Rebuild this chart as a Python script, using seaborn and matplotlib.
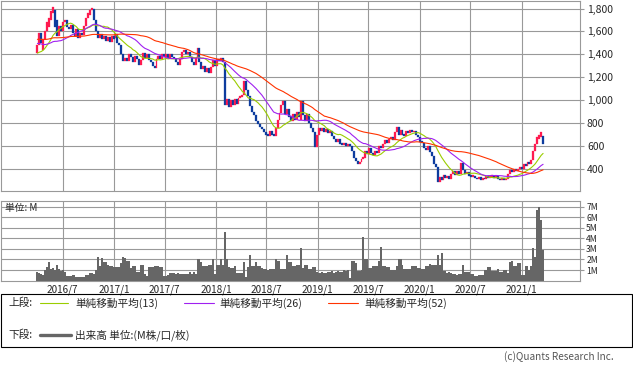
import numpy as np
import pandas as pd
import matplotlib
import matplotlib.pyplot as plt
import seaborn as sns
from matplotlib.lines import Line2D
from matplotlib.patches import Rectangle

matplotlib.use("Agg")

# --- data (weekly, first visible week = 2016-04-01) ---
start_date = "2016-04-01"

# closes of the 51 weeks before the first shown week, only used to seed the moving averages
pre_close = [
    1540, 1560, 1580, 1600, 1590, 1570, 1550, 1560, 1580, 1600, 1620, 1610, 1590,
    1570, 1550, 1520, 1500, 1530, 1560, 1580, 1560, 1540, 1550, 1570, 1590, 1580,
    1600, 1620, 1640, 1610, 1590, 1570, 1600, 1580, 1560, 1550, 1560, 1550, 1510,
    1480, 1420, 1380, 1350, 1370, 1400, 1420, 1380, 1390, 1410, 1420, 1440,
]

open_px = [
    1410, 1480, 1590, 1440, 1530, 1600, 1640, 1700, 1760, 1790, 1700, 1560, 1650,
    1600, 1680, 1700, 1640, 1620, 1660, 1590, 1560, 1620, 1540, 1590, 1570, 1650,
    1720, 1740, 1790, 1800, 1700, 1600, 1540, 1580, 1530, 1560, 1520, 1550, 1510,
    1560, 1540, 1580, 1500, 1480, 1400, 1340, 1370, 1340, 1400, 1380, 1330, 1390,
    1360, 1310, 1350, 1410, 1370, 1400, 1350, 1330, 1300, 1280, 1360, 1390, 1360,
    1400, 1380, 1400, 1370, 1400, 1380, 1360, 1330, 1310, 1360, 1420, 1440, 1400,
    1420, 1380, 1330, 1310, 1370, 1460, 1330, 1270, 1300, 1250, 1280, 1240, 1290,
    1350, 1300, 1360, 1340, 1370, 1330, 960, 1010, 940, 1000, 960, 1010, 970,
    1020, 1030, 1050, 1170, 1090, 1040, 950, 900, 870, 820, 790, 770, 750,
    720, 700, 690, 730, 700, 690, 760, 830, 890, 960, 990, 880, 920,
    860, 820, 880, 830, 900, 830, 990, 870, 820, 880, 800, 760, 720,
    590, 700, 760, 730, 760, 720, 750, 710, 730, 690, 660, 640, 660,
    620, 610, 630, 600, 610, 600, 560, 500, 470, 440, 460, 490, 500,
    560, 530, 580, 540, 520, 560, 540, 600, 580, 620, 650, 630, 660,
    680, 650, 720, 770, 700, 740, 700, 690, 730, 710, 740, 720, 730,
    700, 680, 640, 630, 580, 570, 600, 550, 510, 440, 420, 290, 330,
    300, 350, 320, 340, 310, 360, 380, 350, 380, 360, 450, 390, 360,
    370, 340, 330, 340, 320, 310, 330, 300, 320, 310, 340, 320, 330,
    340, 320, 340, 310, 300, 320, 300, 310, 360, 390, 370, 400, 380,
    400, 420, 400, 440, 430, 460, 440, 480, 560, 620, 660, 680, 690,
]

close_px = [
    1480, 1590, 1500, 1530, 1600, 1680, 1720, 1780, 1810, 1640, 1560, 1650, 1600,
    1680, 1700, 1640, 1620, 1660, 1590, 1560, 1620, 1540, 1590, 1570, 1650, 1720,
    1760, 1790, 1800, 1700, 1600, 1540, 1580, 1530, 1560, 1520, 1550, 1510, 1560,
    1530, 1580, 1500, 1480, 1400, 1340, 1370, 1340, 1400, 1380, 1330, 1390, 1360,
    1310, 1350, 1410, 1370, 1400, 1350, 1330, 1300, 1280, 1360, 1390, 1360, 1400,
    1380, 1400, 1370, 1400, 1380, 1360, 1330, 1310, 1360, 1420, 1440, 1400, 1420,
    1380, 1330, 1310, 1370, 1460, 1330, 1270, 1300, 1250, 1280, 1240, 1290, 1350,
    1300, 1360, 1340, 1370, 1330, 960, 1010, 940, 1000, 960, 1010, 970, 1020,
    1030, 1050, 1170, 1090, 1040, 950, 900, 870, 820, 790, 770, 750, 720,
    700, 690, 730, 700, 690, 760, 830, 890, 960, 990, 880, 920, 850,
    820, 880, 830, 900, 850, 990, 870, 820, 880, 800, 760, 720, 590,
    700, 760, 730, 760, 720, 750, 710, 730, 690, 660, 640, 660, 620,
    610, 630, 600, 610, 600, 560, 500, 470, 440, 460, 490, 500, 560,
    530, 580, 540, 520, 560, 540, 600, 580, 620, 650, 630, 660, 680,
    650, 720, 770, 700, 740, 700, 690, 730, 710, 740, 720, 730, 700,
    680, 640, 630, 580, 570, 600, 550, 510, 440, 420, 290, 330, 300,
    350, 320, 340, 310, 360, 380, 350, 380, 360, 450, 390, 360, 370,
    340, 330, 340, 320, 310, 330, 300, 320, 310, 340, 320, 330, 340,
    320, 340, 310, 300, 320, 300, 310, 360, 390, 370, 400, 380, 400,
    420, 400, 440, 430, 460, 440, 480, 560, 620, 680, 700, 720, 620,
]

# weekly volume, millions
volume_m = [
    0.82, 0.70, 0.60, 0.50, 1.05, 1.26, 1.77, 1.10, 1.20, 1.00, 1.50, 1.10, 0.95,
    1.00, 0.85, 0.45, 0.40, 0.40, 0.55, 0.50, 0.30, 0.30, 0.35, 0.30, 0.30, 0.50,
    0.50, 0.70, 0.70, 0.65, 1.00, 2.20, 1.35, 2.10, 1.77, 1.75, 1.50, 1.40, 1.35,
    1.30, 1.30, 1.30, 1.30, 1.67, 2.20, 2.10, 1.90, 1.85, 1.20, 1.35, 1.35, 0.80,
    0.80, 1.50, 1.50, 0.60, 0.45, 1.26, 1.26, 1.30, 1.35, 1.35, 1.35, 1.26, 1.26,
    0.45, 0.45, 0.50, 0.70, 0.70, 0.70, 0.65, 0.70, 0.65, 0.60, 0.65, 0.60, 0.60,
    0.80, 0.60, 0.80, 0.60, 2.00, 2.00, 1.80, 1.35, 1.35, 1.40, 1.50, 1.50, 2.00,
    0.60, 1.50, 1.50, 2.00, 1.50, 4.60, 2.00, 1.30, 1.20, 1.20, 1.35, 0.70, 0.70,
    0.70, 0.70, 1.80, 0.35, 1.26, 2.46, 1.35, 1.35, 1.77, 1.35, 1.35, 1.20, 1.10,
    1.10, 1.05, 1.10, 1.10, 1.10, 2.00, 1.90, 1.90, 1.10, 1.10, 1.10, 2.40, 1.80,
    1.80, 1.35, 1.35, 1.50, 1.50, 3.10, 1.20, 1.50, 1.50, 1.10, 1.10, 1.26, 1.26,
    0.80, 0.75, 0.70, 0.80, 0.70, 0.75, 0.85, 0.80, 0.90, 0.75, 0.80, 0.90, 0.85,
    0.80, 1.00, 0.90, 1.00, 0.20, 1.90, 1.90, 1.67, 0.90, 0.90, 1.00, 4.10, 2.00,
    2.00, 1.20, 1.20, 1.40, 1.40, 1.40, 1.90, 3.15, 1.35, 1.35, 1.26, 1.26, 1.00,
    1.00, 1.00, 1.35, 2.00, 2.00, 1.50, 1.10, 1.10, 1.10, 1.10, 1.35, 1.35, 1.35,
    1.20, 1.20, 1.10, 1.10, 1.35, 1.35, 1.58, 1.50, 1.50, 1.50, 2.46, 1.50, 2.60,
    0.90, 0.90, 0.75, 0.80, 0.70, 0.60, 0.65, 0.55, 0.60, 0.60, 1.45, 0.80, 0.80,
    0.80, 0.60, 0.60, 0.40, 0.40, 0.50, 0.50, 0.50, 1.00, 1.00, 1.30, 1.30, 0.95,
    0.95, 0.95, 1.10, 0.80, 0.80, 1.00, 1.00, 0.70, 1.80, 1.90, 1.35, 1.35, 1.67,
    1.67, 0.55, 0.55, 1.35, 1.35, 1.00, 1.35, 3.05, 2.20, 6.70, 6.95, 5.75, 2.90,
]

date_ticks = ["2016-07-01", "2017-01-01", "2017-07-01", "2018-01-01", "2018-07-01",
              "2019-01-01", "2019-07-01", "2020-01-01", "2020-07-01", "2021-01-01"]
date_labels = ["2016/7", "2017/1", "2017/7", "2018/1", "2018/7",
               "2019/1", "2019/7", "2020/1", "2020/7", "2021/1"]
price_ticks = [400, 600, 800, 1000, 1200, 1400, 1600, 1800]
vol_ticks = [1, 2, 3, 4, 5, 6, 7]
vol_labels = ["1M", "2M", "3M", "4M", "5M", "6M", "7M"]
ma_windows = [13, 26, 52]
ma_colors = ["#9acd00", "#a020f0", "#ff3300"]

UP = "#ff1a4f"
DOWN = "#0d3c9e"
GRID = "#999999"
VOLC = "#666666"

assert len(open_px) == len(close_px) == len(volume_m) == 260

sns.set_style("white")
plt.rcParams["font.family"] = ["Noto Sans CJK JP", "DejaVu Sans"]

df = pd.DataFrame({"open": open_px, "close": close_px, "vol": volume_m})
df["x"] = np.arange(len(df))
full_close = pd.Series(pre_close + close_px, dtype=float)
for w in ma_windows:
    df[f"ma{w}"] = full_close.rolling(w).mean().iloc[len(pre_close):].to_numpy()

t0 = pd.Timestamp(start_date)
tick_pos = [(pd.Timestamp(d) - t0).days / 7 for d in date_ticks]

W, H = 633, 375
fig = plt.figure(figsize=(W / 100, H / 100), dpi=100)


def fx(px):
    return px / W


def fy(py):
    return 1 - py / H


ax_p = fig.add_axes([fx(0.5), fy(190.7), fx(579.5), (190.7 - 0.5) / H])
ax_v = fig.add_axes([fx(0.5), fy(280.6), fx(579.5), (280.6 - 201) / H])

# --- price panel ---
up = df["close"] >= df["open"]
body_lo = df[["open", "close"]].min(axis=1)
body_h = (df["close"] - df["open"]).abs().clip(lower=15)
cols = np.where(up, UP, DOWN)
ax_p.bar(df["x"], body_h, bottom=body_lo, width=1.0,
         color=cols, edgecolor=cols, linewidth=0.2, zorder=3)
for w, c in zip(ma_windows, ma_colors):
    sns.lineplot(data=df, x="x", y=f"ma{w}", ax=ax_p, color=c, linewidth=0.8, zorder=4)

ax_p.set_xlim(-18.9, 277.9)
ax_p.set_ylim(211, 1870)
ax_p.set_yticks(price_ticks)
ax_p.set_yticklabels([f"{v:,}" for v in price_ticks])
ax_p.set_xticks(tick_pos)
ax_p.set_xticklabels([])

# --- volume panel ---
ax_v.bar(df["x"], df["vol"], width=1.0, color=VOLC, linewidth=0, zorder=3)
ax_v.set_xlim(-18.9, 277.9)
ax_v.set_ylim(0, 7.54)
ax_v.set_yticks(vol_ticks)
ax_v.set_yticklabels(vol_labels)
ax_v.set_xticks(tick_pos)
ax_v.set_xticklabels(date_labels)
ax_v.text(0.008, 0.91, "単位: M", transform=ax_v.transAxes, fontsize=7,
          va="center", ha="left", zorder=5)

for ax in (ax_p, ax_v):
    ax.set_xlabel("")
    ax.set_ylabel("")
    ax.grid(True, color=GRID, linewidth=0.8)
    ax.set_axisbelow(True)
    for s in ax.spines.values():
        s.set_color(GRID)
        s.set_linewidth(0.8)
    ax.yaxis.tick_right()
    ax.tick_params(axis="y", which="both", right=True, left=False, length=3,
                   width=0.8, color=GRID, pad=2)
    ax.tick_params(axis="x", length=0, pad=2.5, labelsize=7.2)

ax_p.tick_params(axis="y", labelsize=7.5)
ax_v.tick_params(axis="y", labelsize=6.2, pad=1.5)

# --- legend box ---
fig.add_artist(Rectangle((fx(1), fy(347)), fx(631), 53 / H, transform=fig.transFigure,
                         fill=False, edgecolor="black", linewidth=0.8))
fs = 7.7
fig.text(fx(8), fy(303), "上段:", fontsize=fs, va="center", ha="left")
legend_items = [(40, 68, 75, "単純移動平均(13)"), (184, 214, 219, "単純移動平均(26)"),
                (328, 358, 364, "単純移動平均(52)")]
for (x0, x1, xt, lab), c in zip(legend_items, ma_colors):
    fig.add_artist(Line2D([fx(x0), fx(x1)], [fy(303), fy(303)], color=c,
                          linewidth=0.8, transform=fig.transFigure))
    fig.text(fx(xt), fy(303), lab, fontsize=fs, va="center", ha="left")

fig.text(fx(8), fy(335), "下段:", fontsize=fs, va="center", ha="left")
fig.add_artist(Line2D([fx(40), fx(71)], [fy(335), fy(335)], color=VOLC,
                      linewidth=2.4, transform=fig.transFigure))
fig.text(fx(75), fy(335), "出来高 単位:(M株/口/枚)", fontsize=fs, va="center", ha="left")

fig.text(fx(614), fy(357), "(c)Quants Research Inc.", fontsize=7.2, color="#555555",
         va="center", ha="right")

fig.savefig("out.png", dpi=100)
plt.close(fig)
